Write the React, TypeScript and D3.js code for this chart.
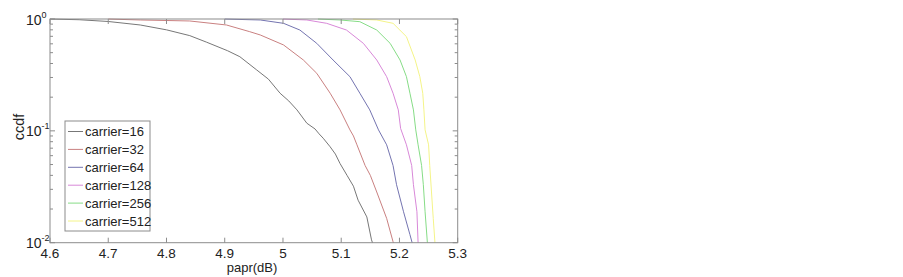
import React from "react";
import * as d3 from "d3";

type Pt = [number, number];

const seriesNames = ["carrier=16", "carrier=32", "carrier=64", "carrier=128", "carrier=256", "carrier=512"];
const seriesColors = ["#777777", "#c98080", "#7474b0", "#d888d8", "#86dc86", "#f4f488"];

const c16: Pt[] = [[4.6,0.999],[4.65,0.985],[4.7,0.95],[4.755,0.884],[4.8,0.8],[4.84,0.71],[4.869,0.62],[4.905,0.52],[4.926,0.46],[4.955,0.35],[4.975,0.29],[4.995,0.217],[5.01,0.185],[5.024,0.154],[5.041,0.117],[5.055,0.104],[5.062,0.094],[5.069,0.086],[5.081,0.072],[5.09,0.062],[5.098,0.051],[5.11,0.04],[5.121,0.032],[5.129,0.024],[5.144,0.017],[5.152,0.0106],[5.154,0.0099]];
const c32: Pt[] = [[4.7,0.999],[4.755,0.98],[4.84,0.96],[4.903,0.884],[4.943,0.77],[4.961,0.72],[5.001,0.586],[5.035,0.43],[5.058,0.327],[5.081,0.217],[5.098,0.154],[5.115,0.102],[5.121,0.09],[5.127,0.075],[5.141,0.049],[5.15,0.04],[5.161,0.0284],[5.178,0.0165],[5.189,0.0102],[5.19,0.0099]];
const c64: Pt[] = [[4.9,0.999],[4.961,0.98],[5.001,0.915],[5.029,0.797],[5.058,0.606],[5.086,0.43],[5.115,0.305],[5.132,0.217],[5.149,0.154],[5.164,0.102],[5.178,0.075],[5.189,0.049],[5.195,0.033],[5.207,0.0189],[5.218,0.0118],[5.222,0.0099]];
const c128: Pt[] = [[5.0,0.999],[5.041,0.98],[5.075,0.915],[5.109,0.797],[5.138,0.606],[5.161,0.43],[5.178,0.305],[5.189,0.217],[5.198,0.154],[5.202,0.105],[5.212,0.075],[5.221,0.049],[5.224,0.033],[5.23,0.0189],[5.232,0.0099]];
const c256: Pt[] = [[5.06,0.999],[5.098,0.98],[5.132,0.946],[5.161,0.797],[5.184,0.606],[5.201,0.43],[5.212,0.305],[5.218,0.217],[5.224,0.154],[5.228,0.102],[5.232,0.075],[5.238,0.049],[5.241,0.033],[5.244,0.0189],[5.248,0.0099]];
const c512: Pt[] = [[5.12,0.999],[5.161,0.98],[5.189,0.915],[5.212,0.695],[5.227,0.43],[5.235,0.305],[5.24,0.217],[5.242,0.154],[5.244,0.102],[5.25,0.075],[5.252,0.049],[5.255,0.0284],[5.258,0.0165],[5.261,0.0099]];
const seriesData: Pt[][] = [c16, c32, c64, c128, c256, c512];

const xTicks = [4.6, 4.7, 4.8, 4.9, 5, 5.1, 5.2, 5.3];
const xTickLabels = ["4.6", "4.7", "4.8", "4.9", "5", "5.1", "5.2", "5.3"];
const yMajor = [1, 0.1, 0.01];
const yExp = ["0", "-1", "-2"];

const W = 903, H = 277;
const L = 50, R = 457.7, T = 19, B = 242.7;
const font = "Arial, 'Liberation Sans', sans-serif";
const axisColor = "#8c8c8c";

export default function App() {
  const x = d3.scaleLinear().domain([4.6, 5.3]).range([L, R]);
  const y = d3.scaleLog().domain([0.01, 1]).range([B, T]);
  const line = d3.line<Pt>().x(d => x(d[0])).y(d => y(d[1]));
  const minors: number[] = [];
  [0.01, 0.1].forEach(b => { for (let k = 2; k <= 9; k++) minors.push(b * k); });

  const legX = 65, legY = 121, legW = 85, legH = 110;
  const rowY0 = 131.5, rowStep = 17.9;

  return (
    <svg width={W} height={H} style={{ position: "absolute", left: 0, top: 0, background: "#fff" }} fontFamily={font}>
      <rect x={0} y={0} width={W} height={H} fill="#fff" />
      <defs>
        <clipPath id="plotclip"><rect x={L} y={T - 1} width={R - L} height={B - T + 1} /></clipPath>
      </defs>
      <g clipPath="url(#plotclip)">
        {seriesData.map((d, i) => (
          <path key={i} d={line(d) || ""} fill="none" stroke={seriesColors[i]} strokeWidth={1} strokeLinejoin="round" />
        ))}
      </g>
      <rect x={L} y={T} width={R - L} height={B - T} fill="none" stroke={axisColor} strokeWidth={1} />
      {xTicks.map((t, i) => (
        <g key={"xt" + i}>
          <line x1={x(t)} x2={x(t)} y1={B} y2={B - 5} stroke={axisColor} />
          <line x1={x(t)} x2={x(t)} y1={T} y2={T + 5} stroke={axisColor} />
          <text x={x(t)} y={257.5} fontSize={13.5} textAnchor="middle" fill="#222">{xTickLabels[i]}</text>
        </g>
      ))}
      {yMajor.map((t, i) => (
        <g key={"ym" + i}>
          <line x1={L} x2={L + 5} y1={y(t)} y2={y(t)} stroke={axisColor} />
          <line x1={R} x2={R - 5} y1={y(t)} y2={y(t)} stroke={axisColor} />
          <text x={26} y={y(t) + 5.5} fontSize={14} fill="#222">
            10<tspan fontSize={9} dy={-7}>{yExp[i]}</tspan>
          </text>
        </g>
      ))}
      {minors.map((t, i) => (
        <g key={"yn" + i}>
          <line x1={L} x2={L + 3} y1={y(t)} y2={y(t)} stroke={axisColor} />
          <line x1={R} x2={R - 3} y1={y(t)} y2={y(t)} stroke={axisColor} />
        </g>
      ))}
      <text x={252} y={272} fontSize={13} textAnchor="middle" fill="#222">papr(dB)</text>
      <text transform="translate(23.5,127) rotate(-90)" fontSize={14.5} textAnchor="middle" fill="#222">ccdf</text>
      <rect x={legX} y={legY} width={legW} height={legH} fill="#fff" stroke={axisColor} strokeWidth={1} />
      {seriesNames.map((n, i) => (
        <g key={"lg" + i}>
          <line x1={68} x2={83} y1={rowY0 + i * rowStep} y2={rowY0 + i * rowStep} stroke={seriesColors[i]} strokeWidth={1} />
          <text x={85} y={rowY0 + i * rowStep + 4.8} fontSize={13} fill="#222">{n}</text>
        </g>
      ))}
    </svg>
  );
}
